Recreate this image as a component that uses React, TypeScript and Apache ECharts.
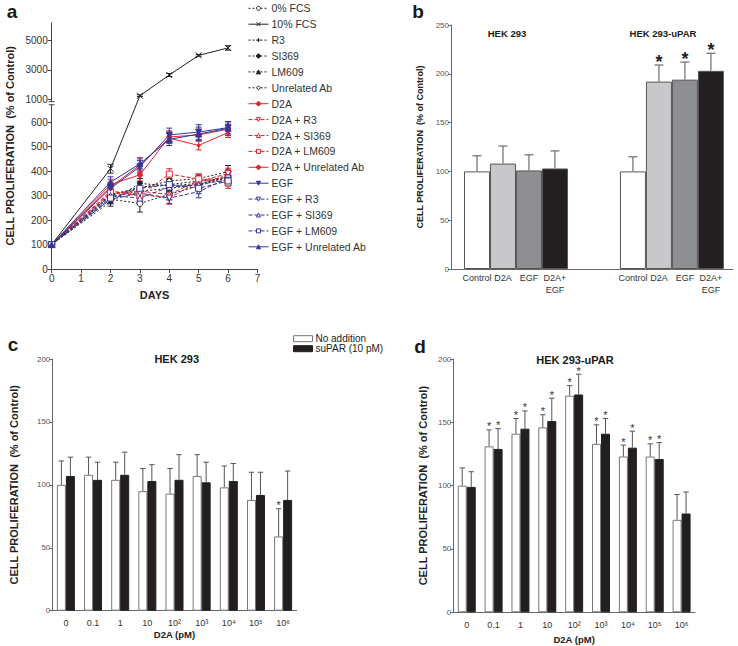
import React, { useEffect, useRef } from "react";
import * as echarts from "echarts";

// ---------- Panel a: proliferation over days ----------
const days = [0, 2, 3, 4, 5, 6];
const aNames = [
  "0% FCS", "10% FCS", "R3", "SI369", "LM609", "Unrelated Ab",
  "D2A", "D2A + R3", "D2A + SI369", "D2A + LM609", "D2A + Unrelated Ab",
  "EGF", "EGF + R3", "EGF + SI369", "EGF + LM609", "EGF + Unrelated Ab",
];
const fcs0 = [100, 285, 268, 305, 340, 378];
const fcs10 = [100, 410, 1250, 2650, 3980, 4480];
const r3 = [100, 300, 335, 345, 360, 370];
const si369 = [100, 275, 350, 340, 350, 372];
const lm609 = [100, 295, 318, 330, 345, 385];
const unrelAb = [100, 305, 330, 360, 370, 398];
const d2a = [100, 345, 385, 540, 548, 572];
const d2aR3 = [100, 318, 305, 290, 358, 390];
const d2aSi369 = [100, 310, 318, 305, 362, 375];
const d2aLm609 = [100, 312, 300, 388, 368, 352];
const d2aUnrel = [100, 335, 425, 535, 505, 558];
const egf = [100, 330, 418, 548, 560, 578];
const egfR3 = [100, 285, 310, 290, 316, 372];
const egfSi369 = [100, 300, 290, 335, 345, 365];
const egfLm609 = [100, 290, 330, 345, 330, 360];
const egfUnrel = [100, 355, 430, 530, 552, 575];

const fcs0Err = [0, 18, 35, 22, 20, 20];
const fcs10Err = [0, 18, 60, 100, 60, 150];
const r3Err = [0, 20, 22, 25, 20, 22];
const si369Err = [0, 18, 20, 22, 18, 25];
const lm609Err = [0, 15, 20, 20, 22, 20];
const unrelAbErr = [0, 18, 22, 20, 18, 25];
const d2aErr = [0, 22, 25, 25, 22, 25];
const d2aR3Err = [0, 20, 22, 25, 20, 22];
const d2aSi369Err = [0, 18, 20, 22, 20, 20];
const d2aLm609Err = [0, 18, 22, 22, 20, 22];
const d2aUnrelErr = [0, 20, 25, 22, 18, 20];
const egfErr = [0, 20, 25, 28, 30, 25];
const egfR3Err = [0, 18, 20, 22, 25, 22];
const egfSi369Err = [0, 15, 20, 20, 22, 20];
const egfLm609Err = [0, 18, 20, 20, 22, 20];
const egfUnrelErr = [0, 22, 25, 25, 28, 28];

const aTickValues = [0, 100, 200, 300, 400, 500, 600, 1000, 3000, 5000];

// ---------- Panel b ----------
const bLabels = ["Control", "D2A", "EGF", "D2A+\nEGF"];
const bTitles = ["HEK 293", "HEK 293-uPAR"];
const bHek293 = [100, 108, 101, 103];
const bHek293Err = [16, 18, 16, 18];
const bHek293Sig = [false, false, false, false];
const bUpar = [100, 192, 194, 203];
const bUparErr = [15, 17, 18, 18];
const bUparSig = [false, true, true, true];

// ---------- Panels c & d ----------
const doseLabels = ["0", "0.1", "1", "10", "10²", "10³", "10⁴", "10⁵", "10⁶"];
const seriesCD = ["No addition", "suPAR (10 pM)"];
const cNoAdd = [100, 108, 104, 95, 93, 107, 98, 88, 59];
const cNoAddErr = [19, 14, 14, 18, 20, 17, 17, 22, 22];
const cNoAddSig = [false, false, false, false, false, false, false, false, true];
const cSupar = [107, 104, 108, 103, 104, 102, 103, 92, 88];
const cSuparErr = [15, 14, 18, 13, 20, 16, 14, 18, 23];
const cSuparSig = [false, false, false, false, false, false, false, false, false];
const dNoAdd = [100, 131, 141, 146, 171, 133, 123, 123, 73];
const dNoAddErr = [14, 13, 12, 10, 8, 15, 9, 10, 20];
const dNoAddSig = [false, true, true, true, true, true, true, true, false];
const dSupar = [99, 129, 145, 151, 172, 141, 130, 121, 78];
const dSuparErr = [12, 16, 14, 18, 16, 12, 13, 13, 17];
const dSuparSig = [false, true, true, true, true, true, true, true, false];

const FONT = "'Liberation Sans', Arial, Helvetica, sans-serif";
const BLACK = "#222";
const RED = "#e4232b";
const BLUE = "#34369a";

// broken-axis transform for panel a (lower linear 0-700, upper compressed from 1000)
const tf = (v: number) => (v <= 700 ? v : 693.3 + (v - 1000) * 0.0605);

function buildOption() {
  const aVals = [fcs0, fcs10, r3, si369, lm609, unrelAb, d2a, d2aR3, d2aSi369, d2aLm609, d2aUnrel, egf, egfR3, egfSi369, egfLm609, egfUnrel];
  const aErrs = [fcs0Err, fcs10Err, r3Err, si369Err, lm609Err, unrelAbErr, d2aErr, d2aR3Err, d2aSi369Err, d2aLm609Err, d2aUnrelErr, egfErr, egfR3Err, egfSi369Err, egfLm609Err, egfUnrelErr];
  const xPath = "path://M0,0L10,10M10,0L0,10";
  const plusPath = "path://M5,0L5,10M0,5L10,5";
  const styles: any[] = [
    { c: BLACK, t: [2, 2], s: "circle", sz: 6, f: false },
    { c: BLACK, t: "solid", s: xPath, sz: 6, f: true },
    { c: BLACK, t: [2, 2], s: plusPath, sz: 6, f: true },
    { c: BLACK, t: [2, 2], s: "circle", sz: 4, f: true },
    { c: BLACK, t: [2, 2], s: "triangle", sz: 4, f: true },
    { c: BLACK, t: [2, 2], s: "diamond", sz: 6, f: false },
    { c: RED, t: "solid", s: "circle", sz: 5, f: true },
    { c: RED, t: [4, 2], s: "triangle", sz: 6, f: false, r: 180 },
    { c: RED, t: [4, 2], s: "triangle", sz: 6, f: false },
    { c: RED, t: [4, 2], s: "rect", sz: 6, f: false },
    { c: RED, t: "solid", s: "circle", sz: 3, f: true },
    { c: BLUE, t: "solid", s: "triangle", sz: 6, f: true, r: 180 },
    { c: BLUE, t: [4, 2], s: "triangle", sz: 6, f: false, r: 180 },
    { c: BLUE, t: [4, 2], s: "triangle", sz: 6, f: false },
    { c: BLUE, t: [4, 2], s: "rect", sz: 6, f: false },
    { c: BLUE, t: "solid", s: "triangle", sz: 6, f: true },
  ];

  const aSeries = aVals.map((vals, i) => ({
    type: "line",
    name: aNames[i],
    xAxisIndex: 0,
    yAxisIndex: 0,
    data: days.map((d, j) => [d, tf(vals[j])]),
    symbol: styles[i].s,
    symbolSize: styles[i].sz,
    symbolRotate: styles[i].r || 0,
    showAllSymbol: true,
    lineStyle: { color: styles[i].c, width: 1, type: styles[i].t },
    itemStyle: { color: styles[i].f ? styles[i].c : "#fff", borderColor: styles[i].c, borderWidth: 1 },
    z: 3,
  }));

  const aErrData: any[] = [];
  aVals.forEach((vals, si) =>
    vals.forEach((v, j) => {
      if (aErrs[si][j] > 0) aErrData.push([days[j], tf(v - aErrs[si][j]), tf(v + aErrs[si][j]), si]);
    })
  );

  const aErrSeries = {
    type: "custom",
    name: "a-err",
    xAxisIndex: 0,
    yAxisIndex: 0,
    data: aErrData,
    encode: { x: 0, y: [1, 2] },
    z: 2,
    renderItem: (_p: any, api: any) => {
      const x = api.value(0);
      const lo = api.coord([x, api.value(1)]);
      const hi = api.coord([x, api.value(2)]);
      const c = styles[api.value(3)].c;
      const st = { stroke: c, lineWidth: 1 };
      return {
        type: "group",
        children: [
          { type: "line", shape: { x1: lo[0], y1: lo[1], x2: hi[0], y2: hi[1] }, style: st },
          { type: "line", shape: { x1: hi[0] - 3, y1: hi[1], x2: hi[0] + 3, y2: hi[1] }, style: st },
          { type: "line", shape: { x1: lo[0] - 3, y1: lo[1], x2: lo[0] + 3, y2: lo[1] }, style: st },
        ],
      };
    },
  };

  // panel b
  const bColors = ["#ffffff", "#c8c8ca", "#8e8f93", "#231f20"];
  const bGroups = [
    { v: bHek293, e: bHek293Err, s: bHek293Sig },
    { v: bUpar, e: bUparErr, s: bUparSig },
  ];
  const bBarData: any[] = [];
  const bErrData: any[] = [];
  const bTickPos: number[] = [];
  bGroups.forEach((g, gi) =>
    g.v.forEach((v, i) => {
      const x = gi * 6 + i + 1;
      bTickPos.push(x);
      bBarData.push({ value: [x, v], itemStyle: { color: bColors[i], borderColor: "#555", borderWidth: 1 } });
      bErrData.push([x, v, v + g.e[i], g.s[i] ? 1 : 0]);
    })
  );

  const bErrSeries = {
    type: "custom",
    name: "b-err",
    xAxisIndex: 1,
    yAxisIndex: 1,
    data: bErrData,
    encode: { x: 0, y: [1, 2] },
    z: 3,
    renderItem: (_p: any, api: any) => {
      const x = api.value(0);
      const lo = api.coord([x, api.value(1)]);
      const hi = api.coord([x, api.value(2)]);
      const st = { stroke: "#777", lineWidth: 1.3 };
      const children: any[] = [
        { type: "line", shape: { x1: lo[0], y1: lo[1], x2: hi[0], y2: hi[1] }, style: st },
        { type: "line", shape: { x1: hi[0] - 4.5, y1: hi[1], x2: hi[0] + 4.5, y2: hi[1] }, style: st },
      ];
      if (api.value(3)) {
        children.push({
          type: "text",
          style: { text: "*", x: hi[0], y: hi[1] - 12, align: "center", verticalAlign: "top", fontSize: 18, fontWeight: "bold", fontFamily: FONT, fill: "#222" },
        });
      }
      return { type: "group", children };
    },
  };

  // panels c, d
  const cdPanel = (xi: number, noAdd: number[], noAddErr: number[], noAddSig: boolean[], sup: number[], supErr: number[], supSig: boolean[]) => {
    const errData: any[] = [];
    noAdd.forEach((v, i) => errData.push([i, v, v + noAddErr[i], 0, noAddSig[i] ? 1 : 0]));
    sup.forEach((v, i) => errData.push([i, v, v + supErr[i], 1, supSig[i] ? 1 : 0]));
    return [
      {
        type: "bar", name: seriesCD[0], xAxisIndex: xi, yAxisIndex: xi, data: noAdd,
        barWidth: 9, barGap: "0%",
        itemStyle: { color: "#fff", borderColor: "#777", borderWidth: 1 },
      },
      {
        type: "bar", name: seriesCD[1], xAxisIndex: xi, yAxisIndex: xi, data: sup,
        barWidth: 9, barGap: "0%",
        itemStyle: { color: "#231f20", borderColor: "#231f20", borderWidth: 1 },
      },
      {
        type: "custom", name: "cd-err-" + xi, xAxisIndex: xi, yAxisIndex: xi, data: errData,
        encode: { x: 0, y: [1, 2] }, z: 3,
        renderItem: (_p: any, api: any) => {
          const i = api.value(0);
          const off = api.value(3) === 0 ? -4.5 : 4.5;
          const lo = api.coord([i, api.value(1)]);
          const hi = api.coord([i, api.value(2)]);
          const x = lo[0] + off;
          const st = { stroke: "#555", lineWidth: 1 };
          const children: any[] = [
            { type: "line", shape: { x1: x, y1: lo[1], x2: x, y2: hi[1] }, style: st },
            { type: "line", shape: { x1: x - 2.7, y1: hi[1], x2: x + 2.7, y2: hi[1] }, style: st },
          ];
          if (api.value(4)) {
            children.push({
              type: "text",
              style: { text: "*", x, y: hi[1] - 9, align: "center", verticalAlign: "top", fontSize: 11, fontFamily: FONT, fill: "#333" },
            });
          }
          return { type: "group", children };
        },
      },
    ];
  };

  const commonAxisLine = { lineStyle: { color: "#666", width: 1 } };
  const yName = "CELL PROLIFERATION  (% of Control)";
  const nameStyle = (size: number) => ({ fontSize: size, fontWeight: "bold", color: "#222", fontFamily: FONT });

  const text = (t: string, x: number, y: number, size: number, align = "center", weight = "bold") => ({
    type: "text", x, y, z: 50,
    style: { text: t, align, verticalAlign: "middle", textAlign: align, textVerticalAlign: "middle", fontSize: size, fontWeight: weight, fontFamily: FONT, fill: "#1a1a1a" },
  });

  return {
    animation: false,
    backgroundColor: "#fff",
    textStyle: { fontFamily: FONT },
    grid: [
      { left: 51.7, top: 22.7, width: 205.8, height: 246.3, outerBoundsMode: "none", containLabel: false },
      { left: 451, top: 25, width: 282, height: 244, outerBoundsMode: "none", containLabel: false },
      { left: 52.3, top: 359, width: 244.4, height: 251.7, outerBoundsMode: "none", containLabel: false },
      { left: 453.3, top: 359, width: 241.7, height: 253.3, outerBoundsMode: "none", containLabel: false },
    ],
    legend: [
      {
        data: aNames, orient: "vertical", left: 248, top: 2.3, padding: 0,
        itemWidth: 20, itemHeight: 5, itemGap: 3.9, selectedMode: false,
        lineStyle: { width: 1 }, itemStyle: { borderWidth: 1 },
        textStyle: { fontSize: 10.5, lineHeight: 12, color: "#333", fontFamily: FONT, padding: [0, 0, 0, -2] },
      },
      {
        data: seriesCD.map((n) => ({ name: n, icon: "rect" })), orient: "vertical", left: 293, top: 333.7, padding: 0,
        itemWidth: 19, itemHeight: 6, itemGap: 0, selectedMode: false,
        itemStyle: { borderWidth: 1 },
        textStyle: { fontSize: 10, lineHeight: 9.6, color: "#222", fontFamily: FONT, padding: [0, 0, 0, -2] },
      },
    ],
    xAxis: [
      {
        gridIndex: 0, type: "value", min: 0, max: 7, interval: 1,
        name: "DAYS", nameLocation: "middle", nameGap: 20, nameTextStyle: nameStyle(11),
        axisLine: { lineStyle: { color: "#444" } }, axisTick: { length: 4, lineStyle: { color: "#444" } },
        axisLabel: { fontSize: 10, color: "#333", margin: 4 }, splitLine: { show: false },
      },
      {
        gridIndex: 1, type: "value", min: 0, max: 10.85,
        axisLine: commonAxisLine, axisTick: { show: false },
        axisLabel: {
          customValues: bTickPos, fontSize: 9, color: "#333", margin: 3, lineHeight: 12,
          formatter: (v: number) => bLabels[(Math.round(v) - 1) % 6] || "",
        },
        splitLine: { show: false },
      },
      {
        gridIndex: 2, type: "category", data: doseLabels,
        name: "D2A (pM)", nameLocation: "middle", nameGap: 19, nameTextStyle: nameStyle(9.5),
        axisLine: commonAxisLine, axisTick: { show: false },
        axisLabel: { fontSize: 9, color: "#333", margin: 8 }, splitLine: { show: false },
      },
      {
        gridIndex: 3, type: "category", data: doseLabels,
        name: "D2A (pM)", nameLocation: "middle", nameGap: 22, nameTextStyle: nameStyle(9.5),
        axisLine: commonAxisLine, axisTick: { show: false },
        axisLabel: { fontSize: 9, color: "#333", margin: 8 }, splitLine: { show: false },
      },
    ],
    yAxis: [
      {
        gridIndex: 0, type: "value", min: 0, max: 1007,
        name: yName, nameLocation: "middle", nameGap: 36, nameTextStyle: nameStyle(11),
        axisLine: { show: true, lineStyle: { color: "#444" } },
        axisTick: { show: true, length: 4, customValues: aTickValues.map(tf), lineStyle: { color: "#444" } },
        axisLabel: {
          fontSize: 10, color: "#333", margin: 4,
          customValues: aTickValues.map(tf),
          formatter: (v: number) => {
            let best = 0;
            aTickValues.forEach((t, k) => { if (Math.abs(tf(t) - v) < Math.abs(tf(aTickValues[best]) - v)) best = k; });
            return String(aTickValues[best]);
          },
        },
        splitLine: { show: false },
      },
      {
        gridIndex: 1, type: "value", min: 0, max: 250, interval: 50,
        name: yName, nameLocation: "middle", nameGap: 27, nameTextStyle: nameStyle(9),
        axisLine: { show: true, ...commonAxisLine }, axisTick: { show: true, length: 3, lineStyle: { color: "#666" } },
        axisLabel: { fontSize: 8, color: "#555", margin: 2 }, splitLine: { show: false },
      },
      {
        gridIndex: 2, type: "value", min: 0, max: 200, interval: 50,
        name: yName, nameLocation: "middle", nameGap: 33, nameTextStyle: nameStyle(11),
        axisLine: { show: true, ...commonAxisLine }, axisTick: { show: true, length: 3, lineStyle: { color: "#666" } },
        axisLabel: { fontSize: 8, color: "#555", margin: 2 }, splitLine: { show: false },
      },
      {
        gridIndex: 3, type: "value", min: 0, max: 200, interval: 50,
        name: yName, nameLocation: "middle", nameGap: 25, nameTextStyle: nameStyle(11),
        axisLine: { show: true, ...commonAxisLine }, axisTick: { show: true, length: 3, lineStyle: { color: "#666" } },
        axisLabel: { fontSize: 8, color: "#555", margin: 2 }, splitLine: { show: false },
      },
    ],
    series: [
      ...aSeries,
      aErrSeries,
      {
        type: "bar", name: "b-bars", xAxisIndex: 1, yAxisIndex: 1, data: bBarData, barWidth: 26, z: 2,
      },
      bErrSeries,
      ...cdPanel(2, cNoAdd, cNoAddErr, cNoAddSig, cSupar, cSuparErr, cSuparSig),
      ...cdPanel(3, dNoAdd, dNoAddErr, dNoAddSig, dSupar, dSuparErr, dSuparSig),
    ],
    graphic: [
      // axis break marks in panel a
      { type: "rect", z: 60, shape: { x: 47, y: 102.1, width: 9, height: 2.3 }, style: { fill: "#fff" } },
      { type: "line", z: 61, shape: { x1: 48.7, y1: 101.6, x2: 54.7, y2: 101.6 }, style: { stroke: "#444", lineWidth: 1 } },
      { type: "line", z: 61, shape: { x1: 48.7, y1: 104.8, x2: 54.7, y2: 104.8 }, style: { stroke: "#444", lineWidth: 1 } },
      text("a", 12, 11, 19),
      text("b", 418, 11, 19),
      text("c", 13, 344, 19),
      text("d", 420, 346, 19),
      text(bTitles[0], 507, 33, 9.5),
      text(bTitles[1], 663, 33, 9.5),
      text(bTitles[0], 176.7, 359, 11),
      text(bTitles[1], 575, 360, 11),
    ],
  };
}

export default function App() {
  const ref = useRef<HTMLDivElement>(null);
  useEffect(() => {
    document.body.style.margin = "0";
    const chart = echarts.init(ref.current!, null, { renderer: "svg" });
    chart.setOption(buildOption() as any);
    return () => chart.dispose();
  }, []);
  return <div ref={ref} style={{ width: 738, height: 646, background: "#fff" }} />;
}
